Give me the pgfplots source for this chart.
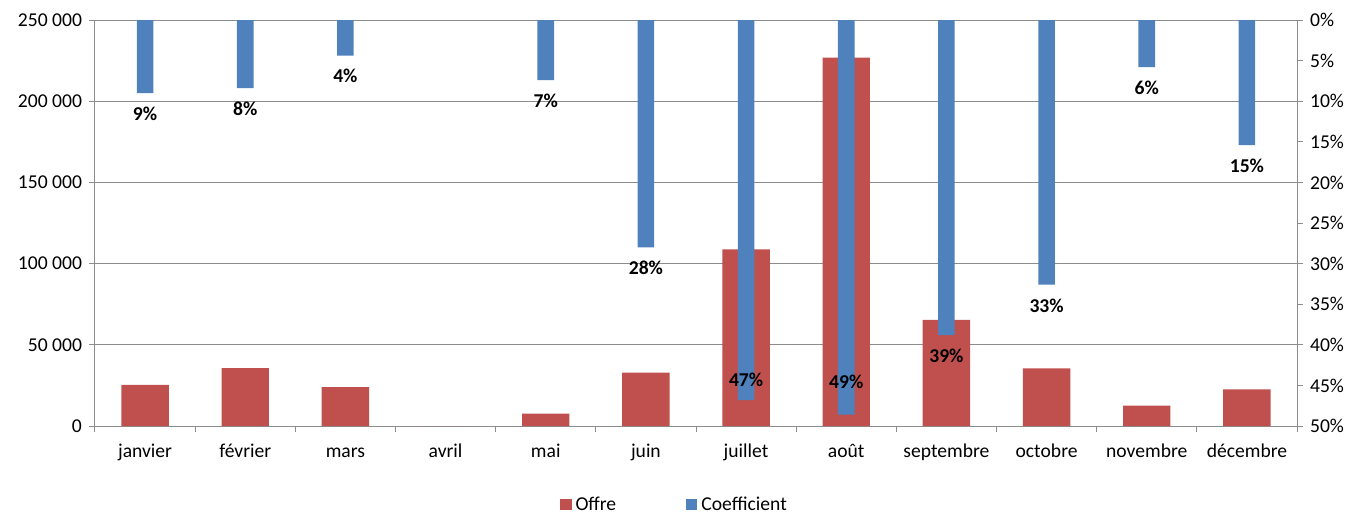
\documentclass[border=0pt]{standalone}
\usepackage{pgfplots}
\pgfplotsset{compat=1.18}
\usepackage{pgfplotstable}
\usepackage{fontspec}
\setmainfont{Carlito}

\definecolor{offre}{HTML}{C0504D}
\definecolor{coef}{HTML}{4F81BD}
\definecolor{axisgray}{HTML}{8C8C8C}

% Offre per month (0 = janvier)
\pgfplotstableread{
idx offre
0  25400
1  35700
2  24000
3  0
4  7600
5  32800
6  108800
7  226800
8  65300
9  35500
10 12500
11 22600
}\offretable

% Coefficient in %, dy = label offset (pt) from bar end
\pgfplotstableread{
idx coef dy
0  9.0  -10.5
1  8.4  -10.5
2  4.4  -10
4  7.4  -10.5
5  28.0 -10
6  46.8  10
7  48.6  16.5
8  38.8 -10.5
9  32.6 -10.5
10 5.8  -10.5
11 15.4 -10.5
}\coeftable

\pgfplotsset{
  common/.style={
    scale only axis, width=601pt, height=203pt,
    at={(0,0)}, anchor=south west,
    xmin=-0.5, xmax=11.5,
    ybar,
    axis line style={axisgray, line width=0.5pt},
    tick style={axisgray, line width=0.5pt},
    major tick length=3pt, minor tick length=3pt,
    tick align=outside,
    ticklabel style={font=\fontsize{9.8}{11.5}\selectfont, text=black},
    /pgf/number format/assume math mode=true,
  },
  sq legend/.style={legend image code/.code={\fill[##1] (0pt,-2.8pt) rectangle (5.6pt,2.8pt);}},
}

\begin{document}
\begin{tikzpicture}
\useasboundingbox (-47.5pt,-44.5pt) rectangle (628.5pt,213pt);
\begin{axis}[common,
  axis y line*=left, axis x line*=bottom,
  ymin=0, ymax=250000, ytick={0,50000,...,250000},
  scaled y ticks=false,
  yticklabel style={/pgf/number format/.cd, fixed, 1000 sep={\ }},
  ymajorgrids, grid style={axisgray, line width=0.5pt},
  xtick={0,...,11},
  xticklabels={janvier,février,mars,avril,mai,juin,juillet,août,septembre,octobre,novembre,décembre},
  xticklabel style={text height=1.6ex, text depth=0.4ex, yshift=-1.5pt},
  major x tick style={draw=none},
  minor xtick={-0.5,0.5,...,11.5},
]
\addplot[fill=offre, draw=none, bar width=23.7pt] table[x=idx,y=offre]{\offretable};
\end{axis}

\begin{axis}[common,
  axis x line=none, axis y line*=right,
  y dir=reverse, ymin=0, ymax=50, ytick={0,5,...,50},
  yticklabel={\pgfmathprintnumber{\tick}\%},
  legend columns=2,
  legend style={draw=none, fill=none, at={(0.483,-0.194)}, anchor=center,
    font=\fontsize{9.8}{11.5}\selectfont,
    /tikz/every even column/.append style={column sep=33pt}},
]
\addlegendimage{fill=offre, draw=none, sq legend}
\addlegendentry{Offre}
\addplot[fill=coef, draw=none, bar width=8.3pt, sq legend,
  visualization depends on={\thisrow{dy} \as \dy},
  nodes near coords={\pgfmathprintnumber[fixed,precision=0]{\pgfplotspointmeta}\%},
  every node near coord/.style={anchor=center, yshift=\dy pt,
    font=\bfseries\fontsize{9.8}{11.5}\selectfont, text=black},
] table[x=idx,y=coef]{\coeftable};
\addlegendentry{Coefficient}
\end{axis}
\end{tikzpicture}
\end{document}
